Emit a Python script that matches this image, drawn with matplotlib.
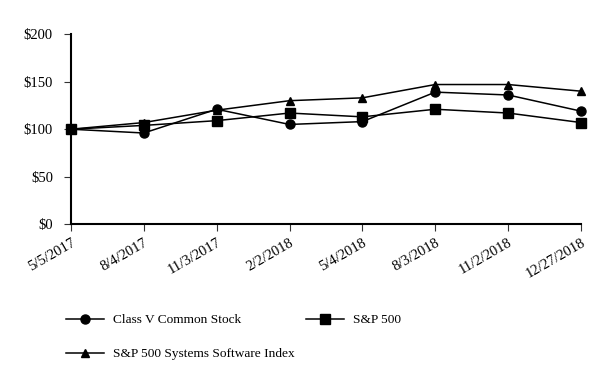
import matplotlib
matplotlib.use("Agg")
import matplotlib.pyplot as plt

plt.rcParams['font.family'] = ['Liberation Serif', 'DejaVu Serif']

dates = ['5/5/2017', '8/4/2017', '11/3/2017', '2/2/2018', '5/4/2018',
         '8/3/2018', '11/2/2018', '12/27/2018']
class_v = [100, 96, 121, 105, 108, 139, 136, 119]
sp500 = [100, 104, 109, 117, 113, 121, 117, 107]
sp_software = [100, 107, 120, 130, 133, 147, 147, 140]

fig = plt.figure(figsize=(6.14, 3.88), dpi=100)
ax = fig.add_axes([0.1156, 0.422, 0.8306, 0.49])

x = list(range(len(dates)))
l1, = ax.plot(x, class_v, color='k', lw=1.1, marker='o', ms=6.5, label='Class V Common Stock')
l2, = ax.plot(x, sp500, color='k', lw=1.1, marker='s', ms=6.5, label='S&P 500')
l3, = ax.plot(x, sp_software, color='k', lw=1.1, marker='^', ms=6,
              label='S&P 500 Systems Software Index')

ax.set_xlim(0, len(dates) - 1)
ax.set_ylim(0, 200)
ax.set_yticks([0, 50, 100, 150, 200])
ax.set_yticklabels(['$0', '$50', '$100', '$150', '$200'])
ax.set_xticks(x)
ax.set_xticklabels(dates, rotation=30, ha='right', rotation_mode='anchor')
ax.tick_params(labelsize=10.5, length=5, width=0.8, colors='#333333', labelcolor='k')
ax.tick_params(axis='y', pad=8)
ax.spines['top'].set_visible(False)
ax.spines['right'].set_visible(False)
ax.spines['left'].set_linewidth(1.5)
ax.spines['bottom'].set_linewidth(1.5)
for l in ax.get_lines():
    l.set_clip_on(False)

# row order: Class V, S&P 500 / Software index
fig.legend([l1, l3, l2], [l1.get_label(), l3.get_label(), l2.get_label()],
           loc='upper left', bbox_to_anchor=(0.088, 0.222), ncol=2, frameon=False,
           fontsize=9.6, handlelength=2.85, handletextpad=0.68, columnspacing=0.8,
           labelspacing=1.63)

plt.savefig('out.png', dpi=100)
